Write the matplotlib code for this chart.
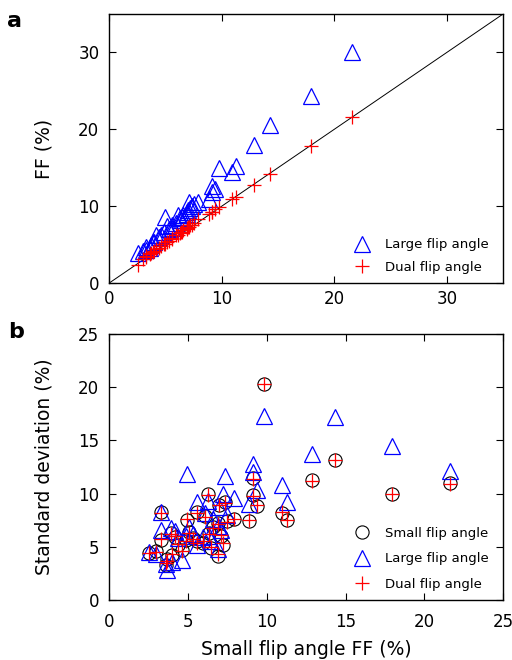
import matplotlib
matplotlib.use("Agg")
import matplotlib.pyplot as plt

plt.rcParams['font.family'] = ['DejaVu Sans']

# Small flip angle fat fraction (%) per subject
small_ff = [21.6, 17.95, 14.3, 12.85, 11.3, 10.95, 9.8, 9.4, 9.1, 9.1, 8.9,
            7.9, 7.5, 7.35, 7.2, 7.0, 6.9, 6.9, 6.6, 6.45, 6.35, 6.3, 5.95,
            5.6, 5.6, 5.3, 4.95, 4.9, 4.65, 4.4, 4.0, 3.9, 3.7, 3.6, 3.3,
            3.3, 2.55, 4.2, 5.1, 6.1, 7.1, 3.0]
# Large flip angle FF (%)
large_ff = [30.0, 24.3, 20.5, 18.0, 15.2, 14.5, 15.0, 12.3, 12.6, 11.8, 11.0,
            10.5, 10.3, 10.0, 9.8, 9.5, 9.0, 9.3, 8.8, 8.6, 8.2, 8.5, 7.8,
            7.6, 7.2, 7.0, 8.6, 6.6, 6.2, 6.0, 5.4, 5.3, 5.0, 4.6, 4.7,
            4.3, 3.9, 6.3, 7.4, 8.9, 10.6, 4.2]
# Dual flip angle FF (%)
dual_ff = [21.6, 17.8, 14.2, 12.8, 11.2, 11.0, 9.9, 9.6, 9.3, 9.2, 9.0,
           8.3, 7.8, 7.6, 7.5, 7.3, 7.2, 7.1, 6.9, 6.7, 6.6, 6.5, 6.2,
           5.9, 5.8, 5.5, 5.1, 5.1, 4.8, 4.6, 4.2, 4.1, 3.9, 3.8, 3.5,
           3.4, 2.4, 4.4, 5.3, 6.3, 7.3, 3.1]
# Standard deviations (%)
sd_small = [11.0, 10.0, 13.2, 11.3, 7.5, 8.2, 20.3, 8.8, 11.5, 9.9, 7.4,
            7.6, 7.4, 9.2, 5.2, 8.9, 7.2, 4.1, 6.9, 4.9, 6.3, 10.0, 5.4,
            8.3, 5.5, 5.8, 7.5, 5.6, 4.7, 5.2, 4.2, 6.3, 3.9, 3.3, 8.3,
            5.6, 4.4, 5.9, 6.4, 7.9, 6.0, 4.6]
sd_large = [12.1, 14.5, 17.2, 13.7, 9.2, 10.8, 17.3, 10.3, 12.8, 12.0, 9.0,
            9.6, 8.0, 11.7, 10.0, 8.7, 7.0, 4.8, 7.6, 5.5, 6.0, 9.3, 5.9,
            9.2, 5.2, 6.2, 11.8, 6.0, 3.8, 5.8, 3.6, 6.8, 2.8, 3.4, 8.3,
            6.6, 4.5, 6.5, 6.9, 8.2, 6.6, 4.3]
sd_dual = [10.9, 10.0, 13.2, 11.2, 7.5, 8.3, 20.3, 8.9, 11.4, 9.8, 7.5,
           7.6, 7.3, 9.1, 5.4, 8.9, 7.1, 4.3, 6.8, 5.0, 6.2, 9.9, 5.5,
           8.2, 5.4, 5.7, 7.6, 5.5, 4.6, 5.3, 4.3, 6.2, 3.7, 3.5, 8.2,
           5.7, 4.4, 6.0, 6.3, 7.8, 6.1, 4.5]

ticks_a = [0, 10, 20, 30]
ticks_b = [0, 5, 10, 15, 20, 25]

fig = plt.figure(figsize=(5.12, 6.6), dpi=100)
ax1 = fig.add_axes([0.213, 0.571, 0.770, 0.408])
ax2 = fig.add_axes([0.213, 0.0909, 0.770, 0.403])

tri_kw = dict(marker='^', linestyle='none', markerfacecolor='none',
              markeredgecolor='#0000ff', markersize=11, markeredgewidth=0.9)
plus_kw = dict(marker='+', linestyle='none', color='#ff0000',
               markersize=10, markeredgewidth=0.9)
circ_kw = dict(marker='o', linestyle='none', markerfacecolor='none',
               markeredgecolor='black', markersize=9.5, markeredgewidth=0.8)

# Panel a
ax1.plot([0, 35], [0, 35], color='black', linewidth=0.7)
ax1.plot(small_ff, large_ff, label='Large flip angle', **tri_kw)
ax1.plot(small_ff, dual_ff, label='Dual flip angle', **plus_kw)
ax1.set_xlim(0, 35)
ax1.set_ylim(0, 35)
ax1.set_xticks(ticks_a)
ax1.set_yticks(ticks_a)
ax1.set_ylabel('FF (%)', fontsize=13.5)
ax1.legend(loc='lower right', bbox_to_anchor=(0.962, 0.035), frameon=False,
           fontsize=9.5, handlelength=1.2, handletextpad=1.1,
           labelspacing=0.7, borderaxespad=0, borderpad=0)

# Panel b
ax2.plot(small_ff, sd_small, label='Small flip angle', **circ_kw)
ax2.plot(small_ff, sd_large, label='Large flip angle', **tri_kw)
ax2.plot(small_ff, sd_dual, label='Dual flip angle', **plus_kw)
ax2.set_xlim(0, 25)
ax2.set_ylim(0, 25)
ax2.set_xticks(ticks_b)
ax2.set_yticks(ticks_b)
ax2.set_xlabel('Small flip angle FF (%)', fontsize=13.5, labelpad=7)
ax2.set_ylabel('Standard deviation (%)', fontsize=13.5)
ax2.legend(loc='lower right', bbox_to_anchor=(0.962, 0.035), frameon=False,
           fontsize=9.5, handlelength=1.2, handletextpad=1.1,
           labelspacing=0.95, borderaxespad=0, borderpad=0)

for ax in (ax1, ax2):
    ax.tick_params(direction='in', top=True, right=True, length=5,
                   width=0.8, labelsize=12)
    ax.tick_params(axis='y', pad=7)
    for s in ax.spines.values():
        s.set_linewidth(1.0)
    ax.yaxis.set_label_coords(-0.14, 0.5)

ax1.tick_params(axis='x', pad=5)
ax2.tick_params(axis='x', pad=9)

fig.text(0.014, 0.968, 'a', fontsize=16, fontweight='bold', va='center')
fig.text(0.016, 0.497, 'b', fontsize=16, fontweight='bold', va='center')

fig.savefig('out.png', dpi=100)
